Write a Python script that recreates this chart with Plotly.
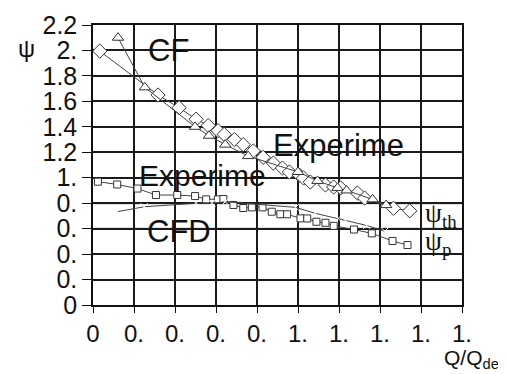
import plotly.graph_objects as go

# psi_th experiment (open diamonds)
th_exp_x = [0.033, 0.317, 0.42, 0.503, 0.562, 0.61, 0.64, 0.69, 0.733, 0.782, 0.83, 0.88, 0.924,
            0.958, 1.007, 1.027, 1.06, 1.134, 1.174, 1.208, 1.29, 1.325, 1.466, 1.545]
th_exp_y = [1.995, 1.65, 1.55, 1.46, 1.41, 1.37, 1.34, 1.30, 1.26, 1.21, 1.16, 1.115, 1.076,
            1.045, 1.02, 0.998, 0.966, 0.943, 0.927, 0.92, 0.88, 0.84, 0.76, 0.74]

# psi_th CFD (open triangles)
th_cfd_x = [0.122, 0.253, 0.498, 0.566, 0.645, 0.757, 1.0, 1.095, 1.193, 1.237, 1.364, 1.43]
th_cfd_y = [2.10, 1.71, 1.40, 1.33, 1.26, 1.17, 1.045, 0.975, 0.92, 0.90, 0.83, 0.785]

# psi_p experiment (open squares)
p_exp_x = [0.024, 0.118, 0.217, 0.307, 0.411, 0.498, 0.552, 0.609, 0.636, 0.685, 0.733, 0.775,
           0.827, 0.872, 0.914, 0.947, 1.012, 1.045, 1.09, 1.134, 1.174, 1.273, 1.36, 1.461, 1.534]
p_exp_y = [0.969, 0.947, 0.915, 0.864, 0.864, 0.856, 0.83, 0.83, 0.833, 0.786, 0.762, 0.767,
           0.767, 0.733, 0.713, 0.713, 0.681, 0.68, 0.654, 0.646, 0.622, 0.593, 0.563, 0.503, 0.471]

# psi_p CFD (x markers)
p_cfd_x = [0.118, 0.25, 0.503, 0.58, 0.645, 0.988, 1.085, 1.196, 1.232, 1.335, 1.423]
p_cfd_y = [0.733, 0.772, 0.799, 0.799, 0.811, 0.767, 0.72, 0.68, 0.665, 0.625, 0.579]

x_ticks = [0, 0.2, 0.4, 0.6, 0.8, 1.0, 1.2, 1.4, 1.6, 1.8]
x_labels = ["0", "0.", "0.", "0.", "0.", "1.", "1.", "1.", "1.", "1."]
y_ticks = [0, 0.2, 0.4, 0.6, 0.8, 1.0, 1.2, 1.4, 1.6, 1.8, 2.0, 2.2]
y_labels = ["0", "0.", "0.", "0.", "0.", "1.", "1.2", "1.4", "1.6", "1.8", "2.", "2.2"]

LINE = "#444444"
MK = "#333333"

fig = go.Figure()

# gray reference lines at 0.8 and 0.6
for yv in (0.8, 0.6):
    fig.add_shape(type="line", xref="x", yref="y", x0=0, x1=1.8, y0=yv, y1=yv,
                  line=dict(color="#8a8a8a", width=2), layer="below")

def add(xs, ys, sym, size):
    fig.add_trace(go.Scatter(
        x=xs, y=ys, mode="lines+markers",
        line=dict(color=LINE, width=1),
        marker=dict(symbol=sym, size=size, color="white",
                    line=dict(color=MK, width=1)),
        showlegend=False))

add(th_exp_x, th_exp_y, "diamond", 11)
add(th_cfd_x, th_cfd_y, "triangle-up", 10)
add(p_exp_x, p_exp_y, "square", 7)
add(p_cfd_x, p_cfd_y, "x-thin-open", 7)

sans = "Liberation Sans, Arial, sans-serif"
serif = "Liberation Serif, Times New Roman, serif"

ann = [
    dict(x=0.367, y=2.0, text="CF", size=31),
    dict(x=1.198, y=1.257, text="Experime", size=31),
    dict(x=0.532, y=1.02, text="Experime", size=30),
    dict(x=0.42, y=0.58, text="CFD", size=31),
]
for a in ann:
    fig.add_annotation(x=a["x"], y=a["y"], xref="x", yref="y", text=a["text"],
                       showarrow=False, font=dict(family=sans, size=a["size"], color="#111"))

fig.add_annotation(x=1.61, y=0.71, xref="x", yref="y", xanchor="left",
                   text="ψ<sub>th</sub>", showarrow=False,
                   font=dict(family=serif, size=27, color="#111"))
fig.add_annotation(x=1.61, y=0.49, xref="x", yref="y", xanchor="left",
                   text="ψ<sub>p</sub>", showarrow=False,
                   font=dict(family=serif, size=27, color="#111"))

# axis titles
fig.add_annotation(x=-0.21, y=0.97, xref="paper", yref="paper", text="ψ",
                   showarrow=False, font=dict(family=sans, size=24, color="#111"))
fig.add_annotation(x=1.105, y=-0.246, xref="paper", yref="paper", xanchor="right",
                   yanchor="bottom", text="Q/Q<sub>de</sub>", showarrow=False,
                   font=dict(family=sans, size=21, color="#111"))

fig.update_xaxes(range=[0, 1.8], tickvals=x_ticks, ticktext=x_labels, automargin=False,
                 showgrid=True, gridcolor="#1a1a1a", gridwidth=1.5,
                 showline=True, linecolor="#111", linewidth=1.5, mirror=True,
                 ticks="outside", ticklen=6, tickcolor="#111",
                 tickfont=dict(family=sans, size=24, color="#111"), zeroline=False)
fig.update_yaxes(range=[0, 2.2], tickvals=y_ticks, ticktext=y_labels, automargin=False,
                 showgrid=True, gridcolor="#1a1a1a", gridwidth=1.5,
                 showline=True, linecolor="#111", linewidth=1.5, mirror=True,
                 ticks="outside", ticklen=9, tickcolor="#111",
                 tickfont=dict(family=sans, size=25, color="#111"), zeroline=False)

# page body adds an 8px margin, so the figure is 8px smaller and shifted
fig.update_layout(width=498, height=366, margin=dict(l=85, r=44, t=17, b=69),
                  plot_bgcolor="white", paper_bgcolor="white")

fig.write_html("out.html")
